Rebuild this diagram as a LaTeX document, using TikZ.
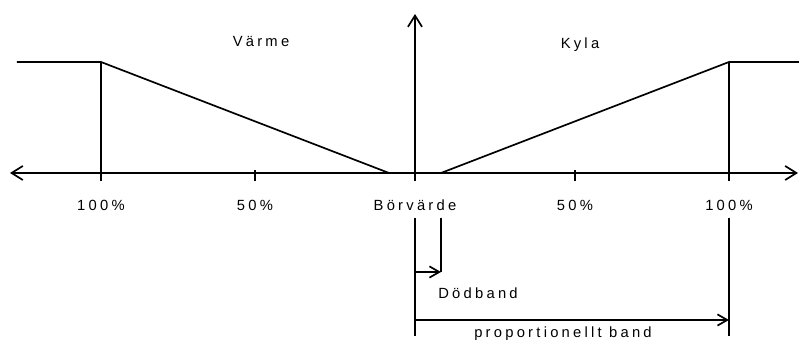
\documentclass[tikz,border=0pt]{standalone}
\usepackage{fontspec}
\setmainfont[LetterSpace=22]{Liberation Sans}
\usetikzlibrary{arrows.meta}

\tikzstyle{curve} = [line width=1.2pt]
\tikzstyle{axis} = [line width=1.2pt, >={Straight Barb[length=8pt,width=10pt]}]
\tikzstyle{band} = [line width=1.2pt, ->, >={Straight Barb[length=7pt,width=8pt]}]
\tikzstyle{lbl} = [anchor=base, inner sep=0pt, font=\fontsize{10.5}{12}\selectfont]

\begin{document}
\begin{tikzpicture}
  \useasboundingbox (-10.375,-4.175) rectangle (9.6,4.325);

  %% Axes
  \coordinate (xmin) at (-10.125,0);
  \coordinate (xmax) at (9.575,0);
  \coordinate (ybot) at (0,-0.2);
  \coordinate (ymax) at (0,3.975);
  \draw [axis, <->] (xmin) -- (xmax);
  \draw [axis, ->] (ybot) -- (ymax);

  %% Heating side
  \coordinate (hstart) at (-9.95,2.775);
  \coordinate (hsat) at (-7.85,2.775);
  \coordinate (hzero) at (-0.65,0);
  \draw [curve] (hstart) -- (hsat) -- (hzero);
  \draw [curve] (hsat) -- (-7.85,-0.2);
  \draw [curve] (-4,0.075) -- (-4,-0.2);

  %% Cooling side
  \coordinate (czero) at (0.65,0);
  \coordinate (csat) at (7.85,2.775);
  \coordinate (cend) at (9.6,2.775);
  \draw [curve] (czero) -- (csat) -- (cend);
  \draw [curve] (csat) -- (7.85,-0.2);
  \draw [curve] (4,0.075) -- (4,-0.2);

  %% Labels
  \node (varme) [lbl] at (-3.85,3.15) {Värme};
  \node (kyla) [lbl] at (4.125,3.1) {Kyla};
  \node (hfull) [lbl] at (-7.85,-0.95) {100\%};
  \node (hhalf) [lbl] at (-4,-0.95) {50\%};
  \node (bor) [lbl] at (0,-0.95) {Börvärde};
  \node (chalf) [lbl] at (4,-0.95) {50\%};
  \node (cfull) [lbl] at (7.85,-0.95) {100\%};

  %% Bands
  \coordinate (sp) at (0,-1.125);
  \coordinate (db) at (0.65,-1.125);
  \coordinate (pb) at (7.85,-1.125);
  \draw [curve] (sp) -- (0,-4.075);
  \draw [curve] (db) -- (0.65,-2.475);
  \draw [curve] (pb) -- (7.85,-4.075);
  \draw [band] (0,-2.475) -- (0.65,-2.475);
  \draw [band] (0,-3.675) -- (7.85,-3.675);
  \node (dodband) [lbl] at (1.575,-3.15) {Dödband};
  \node (prop) [lbl] at (3.7,-4.125) {proportionellt band};

\end{tikzpicture}
\end{document}
